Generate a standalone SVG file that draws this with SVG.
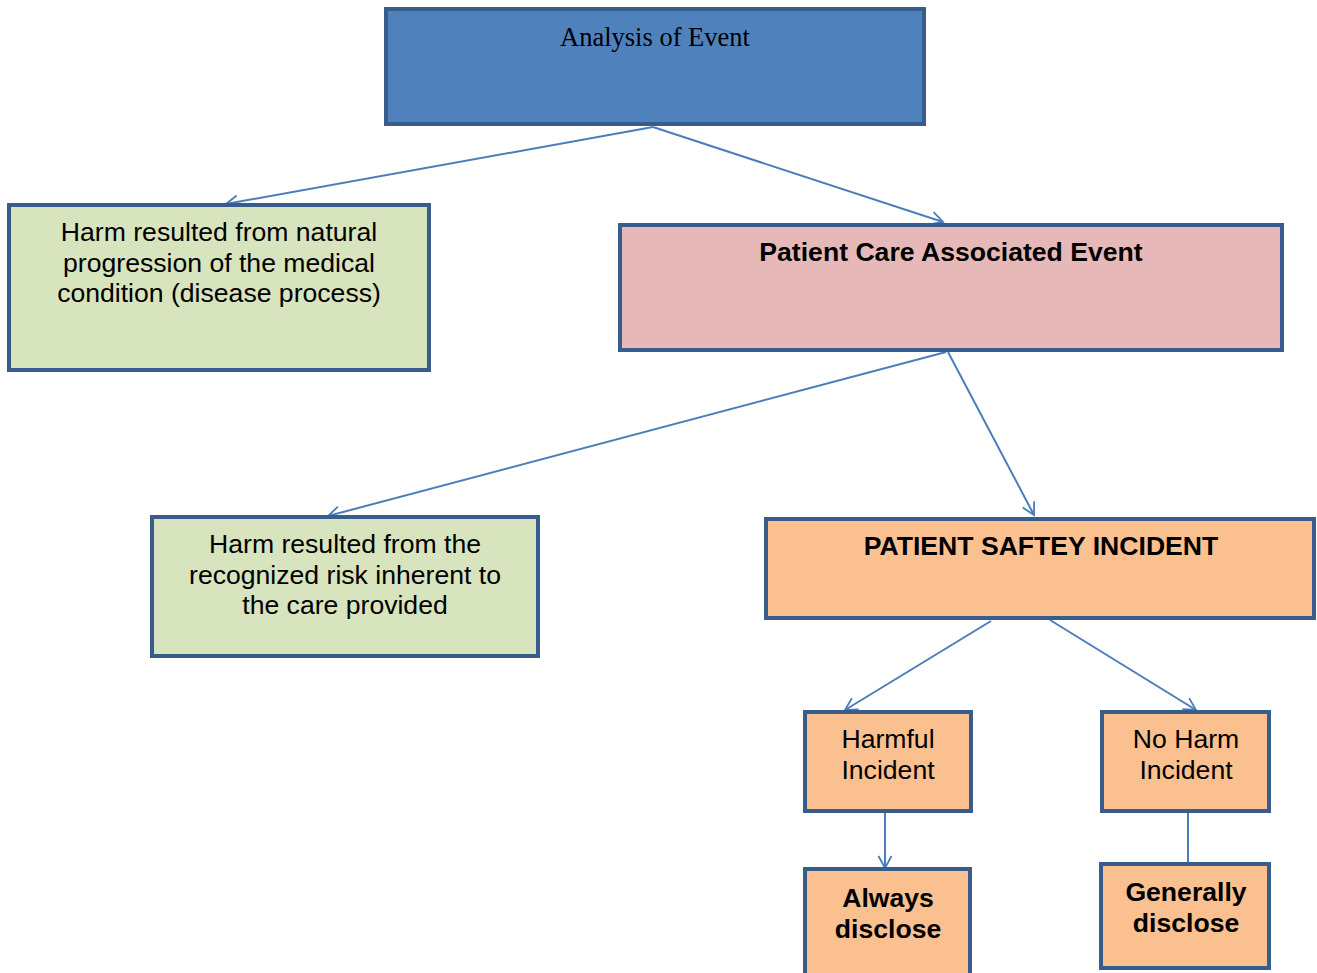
<svg xmlns="http://www.w3.org/2000/svg" width="1317" height="973" viewBox="0 0 1317 973">
<defs>
<marker id="arr" markerUnits="userSpaceOnUse" markerWidth="30" markerHeight="30" refX="0" refY="0" viewBox="-15 -15 30 30" orient="auto" overflow="visible">
<path d="M-12,-6.5 L0,0 L-12,6.5" fill="none" stroke="#4A7EBB" stroke-width="1.8"/>
</marker>
</defs>
<style>
.box{stroke:#385D8A;stroke-width:4}
.t{font-family:"Liberation Sans",Arial,sans-serif;font-size:26.6px;fill:#000;text-anchor:middle}
.b{font-weight:bold}
.s{font-family:"Liberation Serif","Times New Roman",serif;font-size:26.5px;fill:#000;text-anchor:middle}
.c{stroke:#4A7EBB;stroke-width:2;fill:none}
</style>
<g id="connectors">
<line class="c" x1="653" y1="127" x2="226" y2="204" marker-end="url(#arr)"/>
<line class="c" x1="653" y1="127" x2="943" y2="222" marker-end="url(#arr)"/>
<line class="c" x1="946" y1="352" x2="328" y2="516" marker-end="url(#arr)"/>
<line class="c" x1="948" y1="352" x2="1034" y2="515" marker-end="url(#arr)"/>
<line class="c" x1="991" y1="621" x2="845" y2="710" marker-end="url(#arr)"/>
<line class="c" x1="1050" y1="620" x2="1196" y2="710" marker-end="url(#arr)"/>
<line class="c" x1="885" y1="813" x2="885" y2="868" marker-end="url(#arr)"/>
<line class="c" x1="1188" y1="813" x2="1188" y2="863"/>
</g>
<g id="analysis">
<rect class="box" x="386" y="9" width="538" height="115" fill="#4F81BD"/>
<text class="s" x="655" y="46">Analysis of Event</text>
</g>
<g id="natural">
<rect class="box" x="9" y="205" width="420" height="165" fill="#D7E4BD"/>
<text class="t" x="219" y="241">Harm resulted from natural</text>
<text class="t" x="219" y="272">progression of the medical</text>
<text class="t" x="219" y="302">condition (disease process)</text>
</g>
<g id="pcae">
<rect class="box" x="620" y="225" width="662" height="125" fill="#E6B9B8"/>
<text class="t b" x="951" y="261">Patient Care Associated Event</text>
</g>
<g id="risk">
<rect class="box" x="152" y="517" width="386" height="139" fill="#D7E4BD"/>
<text class="t" x="345" y="553">Harm resulted from the</text>
<text class="t" x="345" y="584">recognized risk inherent to</text>
<text class="t" x="345" y="614">the care provided</text>
</g>
<g id="psi">
<rect class="box" x="766" y="519" width="548" height="99" fill="#FAC090"/>
<text class="t b" x="1041" y="555">PATIENT SAFTEY INCIDENT</text>
</g>
<g id="harmful">
<rect class="box" x="805" y="712" width="166" height="99" fill="#FAC090"/>
<text class="t" x="888" y="748">Harmful</text>
<text class="t" x="888" y="779">Incident</text>
</g>
<g id="noharm">
<rect class="box" x="1102" y="712" width="167" height="99" fill="#FAC090"/>
<text class="t" x="1186" y="748">No Harm</text>
<text class="t" x="1186" y="779">Incident</text>
</g>
<g id="always">
<rect class="box" x="805" y="869" width="165" height="106" fill="#FAC090"/>
<text class="t b" x="888" y="907">Always</text>
<text class="t b" x="888" y="938">disclose</text>
</g>
<g id="generally">
<rect class="box" x="1101" y="864" width="168" height="104" fill="#FAC090"/>
<text class="t b" x="1186" y="901">Generally</text>
<text class="t b" x="1186" y="932">disclose</text>
</g>
</svg>
